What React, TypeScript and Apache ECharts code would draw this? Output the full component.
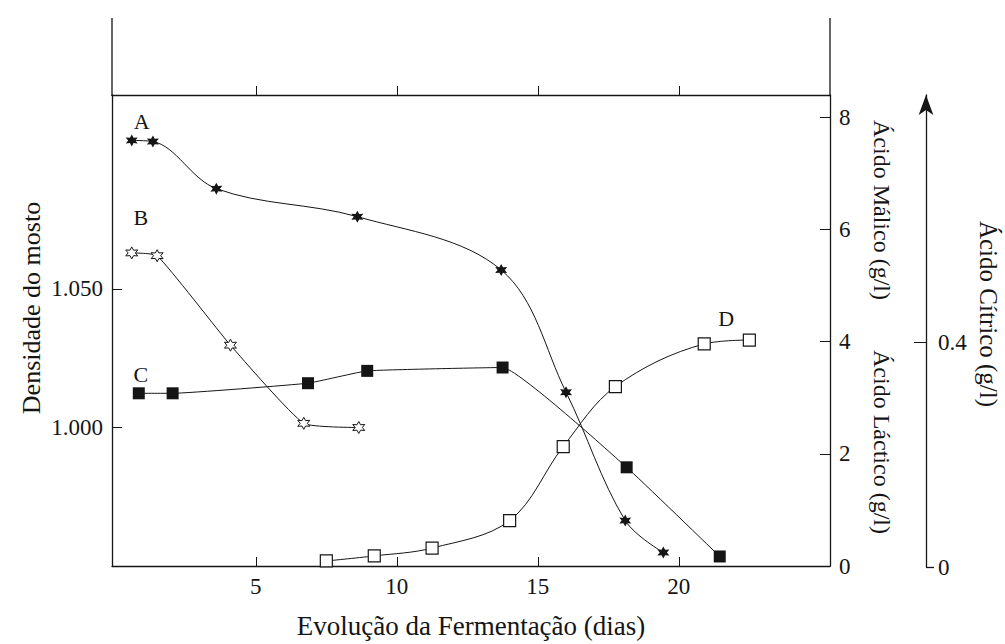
import React, { useEffect, useRef } from "react";
import * as echarts from "echarts";

// Series A: ácido málico (g/l)
const aDays = [0.6, 1.35, 3.6, 8.6, 13.7, 16.0, 18.1, 19.45];
const aMalic = [7.59, 7.57, 6.73, 6.23, 5.28, 3.1, 0.81, 0.24];
// Series B: densidade do mosto
const bDays = [0.6, 1.5, 4.1, 6.7, 8.65];
const bDensity = [1.063, 1.062, 1.0297, 1.0015, 1.0];
// Series C: ácido cítrico (g/l)
const cDays = [0.85, 2.05, 6.85, 8.95, 13.75, 18.15, 21.45];
const cCitric = [0.308, 0.308, 0.326, 0.348, 0.354, 0.176, 0.017];
// Series D: ácido láctico (g/l)
const dDays = [7.5, 9.2, 11.25, 14.0, 15.9, 17.75, 20.9, 22.5];
const dLactic = [0.09, 0.18, 0.32, 0.81, 2.13, 3.2, 3.96, 4.03];

const xTicks = [5, 10, 15, 20];
const densityTicks = [1.0, 1.05];
const acidTicks = [0, 2, 4, 6, 8];
const citricTicks = [0, 0.4];

const FONT = "Liberation Serif";
const INK = "#151515";
const TICK = 23;
const STAR =
  "path://M50 0L63 27.5L93.3 25L76 50L93.3 75L63 72.5L50 100L37 72.5L6.7 75L24 50L6.7 25L37 27.5Z";

function withLabel(xs: number[], ys: number[], idx: number, text: string, offset: number[]) {
  return xs.map((x, i) =>
    i === idx
      ? {
          value: [x, ys[i]],
          label: {
            show: true,
            formatter: text,
            position: "top",
            distance: 2,
            offset,
            fontFamily: FONT,
            fontSize: 22,
            color: INK,
          },
        }
      : [x, ys[i]]
  );
}

function vText(text: string, x: number, y: number, size: number, rotation: number) {
  return {
    type: "text",
    x,
    y,
    rotation,
    style: { text, font: `${size}px "${FONT}"`, fill: INK, align: "center", verticalAlign: "middle" },
  };
}

export default function App() {
  const ref = useRef<HTMLDivElement>(null);
  useEffect(() => {
    if (!ref.current) return;
    const chart = echarts.init(ref.current, null, { renderer: "svg" });
    const lineStyle = { color: INK, width: 1 };
    const tickLabel = { fontFamily: FONT, fontSize: TICK, color: INK };
    const axisLine = { show: true, onZero: false, lineStyle: { color: INK, width: 1.3 } };
    chart.setOption({
      animation: false,
      backgroundColor: "#fff",
      grid: [
        { left: 112, right: 175, top: 95, bottom: 77 },
        { left: 900, right: 79, top: 95, bottom: 77 },
      ],
      xAxis: [
        {
          type: "value",
          gridIndex: 0,
          min: -0.1,
          max: 25.36,
          position: "bottom",
          axisLine,
          axisTick: { inside: true, length: 9, customValues: xTicks, lineStyle: { color: INK } },
          axisLabel: { customValues: xTicks, margin: 9, ...tickLabel },
          splitLine: { show: false },
          name: "Evolução da Fermentação (dias)",
          nameLocation: "middle",
          nameGap: 46,
          nameTextStyle: { fontFamily: FONT, fontSize: 27, color: INK },
        },
        {
          type: "value",
          gridIndex: 0,
          min: -0.1,
          max: 25.36,
          position: "top",
          axisLine,
          axisTick: { inside: false, length: 9, customValues: xTicks, lineStyle: { color: INK } },
          axisLabel: { show: false },
          splitLine: { show: false },
        },
        { type: "value", gridIndex: 1, min: 0, max: 1, show: false },
      ],
      yAxis: [
        {
          type: "value",
          gridIndex: 0,
          position: "left",
          min: 0.95,
          max: 1.12,
          axisLine,
          axisTick: { show: true, inside: true, length: 10, customValues: densityTicks, lineStyle: { color: INK } },
          axisLabel: {
            customValues: densityTicks,
            margin: 9,
            formatter: (v: number) => v.toFixed(3),
            ...tickLabel,
          },
          splitLine: { show: false },
        },
        {
          type: "value",
          gridIndex: 0,
          position: "right",
          min: 0,
          max: 8.4,
          axisLine,
          axisTick: { show: true, inside: true, length: 10, customValues: acidTicks, lineStyle: { color: INK } },
          axisLabel: { customValues: acidTicks, margin: 9, ...tickLabel },
          splitLine: { show: false },
        },
        {
          type: "value",
          gridIndex: 1,
          position: "right",
          min: 0,
          max: 0.84,
          axisLine: {
            show: true,
            onZero: false,
            symbol: ["none", "arrow"],
            symbolSize: [11, 20],
            lineStyle: { color: INK, width: 1.3 },
          },
          axisTick: { show: true, inside: true, length: 12, customValues: [0.4], lineStyle: { color: INK } },
          axisLabel: {
            customValues: citricTicks,
            margin: 12,
            formatter: (v: number) => (v === 0 ? "0" : v.toFixed(1)),
            ...tickLabel,
          },
          splitLine: { show: false },
        },
        { type: "value", gridIndex: 0, min: 0, max: 0.84, show: false },
        {
          type: "value",
          gridIndex: 1,
          position: "right",
          min: 0,
          max: 0.84,
          axisLine: { show: false, onZero: false },
          axisTick: { show: true, inside: false, length: 8, customValues: [0], lineStyle: { color: INK, width: 1.3 } },
          axisLabel: { show: false },
          splitLine: { show: false },
        },
      ],
      series: [
        {
          name: "A",
          type: "line",
          xAxisIndex: 0,
          yAxisIndex: 1,
          smooth: 0.35,
          symbol: STAR,
          symbolSize: 12,
          showAllSymbol: true,
          lineStyle,
          itemStyle: { color: INK },
          data: withLabel(aDays, aMalic, 0, "A", [10, 0]),
        },
        {
          name: "B",
          type: "line",
          xAxisIndex: 0,
          yAxisIndex: 0,
          smooth: 0.15,
          symbol: STAR,
          symbolSize: 12,
          showAllSymbol: true,
          lineStyle,
          itemStyle: { color: "#fff", borderColor: INK, borderWidth: 1 },
          data: withLabel(bDays, bDensity, 0, "B", [9, -16]),
        },
        {
          name: "C",
          type: "line",
          xAxisIndex: 0,
          yAxisIndex: 3,
          smooth: 0.1,
          symbol: "rect",
          symbolSize: 12,
          showAllSymbol: true,
          lineStyle,
          itemStyle: { color: INK },
          data: withLabel(cDays, cCitric, 0, "C", [2, 0]),
        },
        {
          name: "D",
          type: "line",
          xAxisIndex: 0,
          yAxisIndex: 1,
          smooth: 0.35,
          symbol: "rect",
          symbolSize: 12,
          showAllSymbol: true,
          lineStyle,
          itemStyle: { color: "#fff", borderColor: INK, borderWidth: 1.2 },
          data: withLabel(dDays, dLactic, 6, "D", [22, -6]),
        },
      ],
      graphic: [
        { type: "line", shape: { x1: 112, y1: 18, x2: 112, y2: 96 }, style: { stroke: INK, lineWidth: 1.3 } },
        { type: "line", shape: { x1: 830, y1: 18, x2: 830, y2: 96 }, style: { stroke: INK, lineWidth: 1.3 } },
        vText("Densidade do mosto", 31, 308, 26, Math.PI / 2),
        vText("Ácido Málico (g/l)", 882, 210, 24, -Math.PI / 2),
        vText("Ácido Láctico (g/l)", 882, 442, 24, -Math.PI / 2),
        vText("Ácido Cítrico (g/l)", 988, 314, 25, -Math.PI / 2),
      ],
    });
    return () => chart.dispose();
  }, []);
  return (
    <div
      ref={ref}
      style={{ position: "fixed", left: 0, top: 0, width: 1005, height: 644, background: "#fff" }}
    />
  );
}
